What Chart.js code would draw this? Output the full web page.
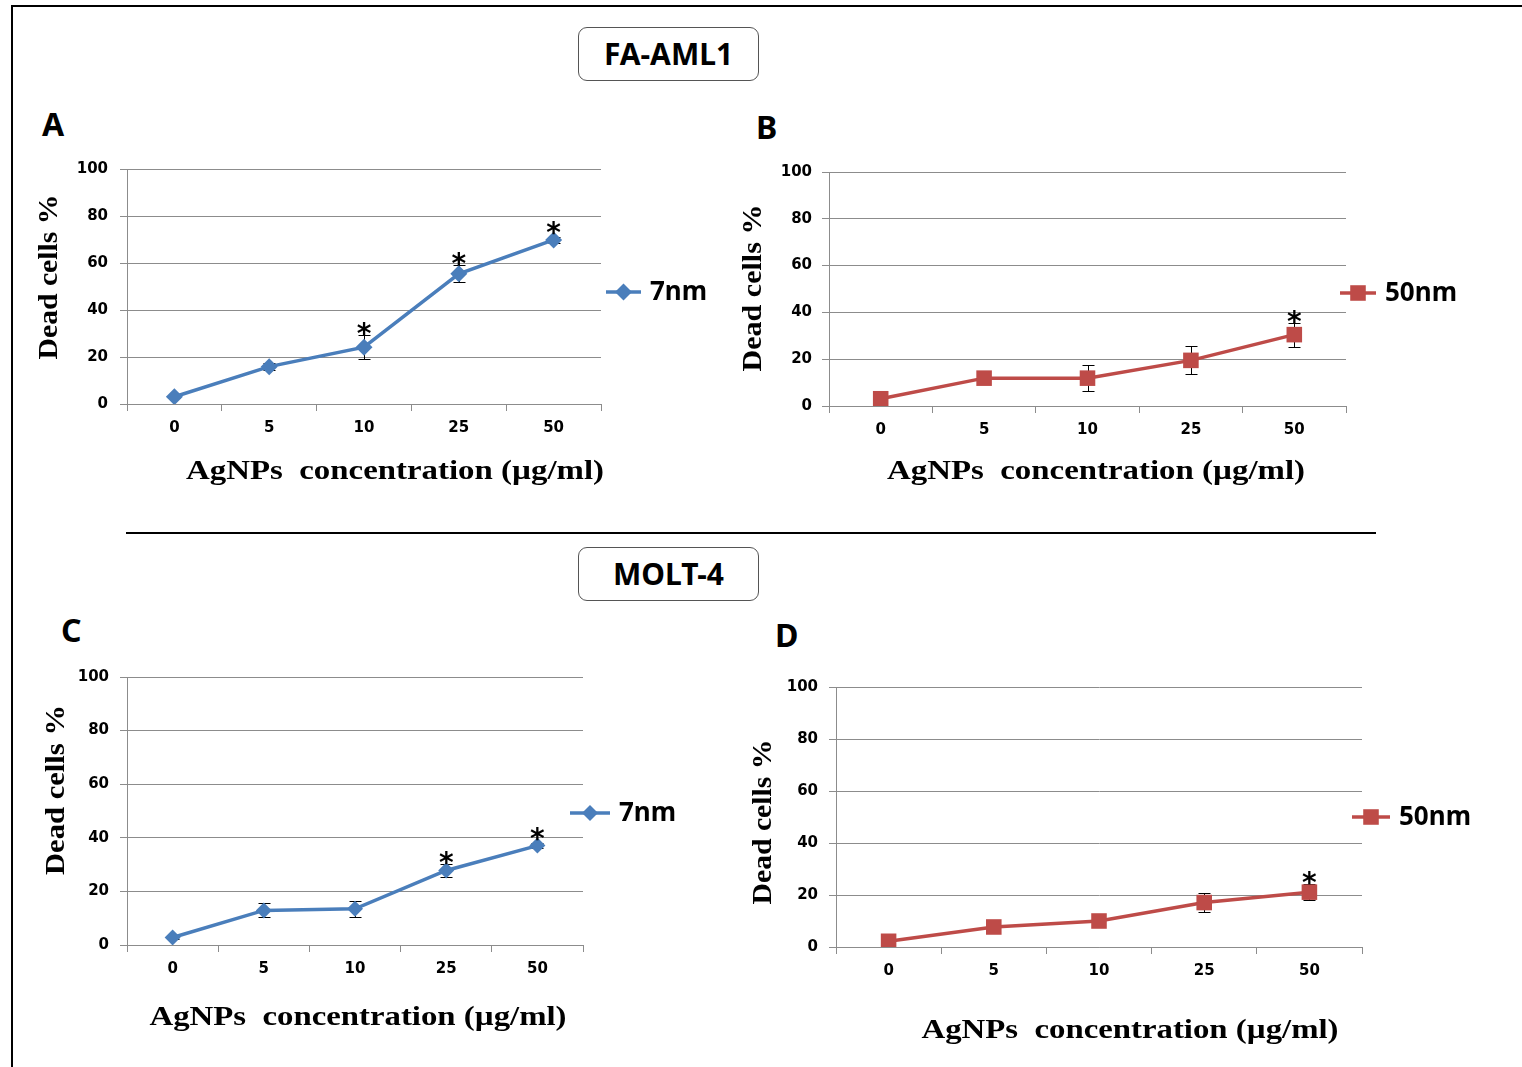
<!DOCTYPE html>
<html>
<head>
<meta charset="utf-8">
<script src="https://cdn.jsdelivr.net/npm/chart.js@4.4.1/dist/chart.umd.min.js"></script>
<style>
  html, body { margin: 0; padding: 0; background: #fff; }
  #page { position: relative; width: 1522px; height: 1067px; overflow: hidden; }
  #page canvas { position: absolute; left: 0; top: 0; }
  .frame { position: absolute; left: 11px; top: 5px; width: 1520px; height: 1070px;
           border-left: 2px solid #000; border-top: 2px solid #000; }
  .divider { position: absolute; left: 126px; top: 532px; width: 1250px; height: 2px; background: #000; }
  .cellbox { position: absolute; width: 179px; height: 52px; border: 1px solid #555; border-radius: 9px;
             font: bold 30px "Noto Sans", sans-serif; text-align: center; line-height: 52px; color: #000; }
  .letter { position: absolute; font: bold 32px "Noto Sans", sans-serif; line-height: 1; color: #000; }
</style>
</head>
<body>
<div id="page">
  <div class="frame"></div>
  <div class="cellbox" style="left:578px; top:27px;">FA-AML1</div>
  <div class="divider"></div>
  <div class="cellbox" style="left:578px; top:547px;">MOLT-4</div>
  <div class="letter" style="left:42px; top:108px;">A</div>
  <div class="letter" style="left:756px; top:111px;">B</div>
  <div class="letter" style="left:61px; top:614px;">C</div>
  <div class="letter" style="left:775px; top:619px;">D</div>
  <canvas id="chartA" width="1522" height="1067"></canvas>
  <canvas id="chartB" width="1522" height="1067"></canvas>
  <canvas id="chartC" width="1522" height="1067"></canvas>
  <canvas id="chartD" width="1522" height="1067"></canvas>
</div>
<script>
// AgNPs concentration (µg/ml)
const concentrations = ["0", "5", "10", "25", "50"];

// FA-AML1, dead cells %
const famlSmall = [3.1, 15.9, 24.2, 55.4, 69.8];
const famlSmallErr = [0.6, 1.5, 5.2, 3.6, 1.2];
const famlSmallStar = [false, false, true, true, true];
const famlLarge = [3.1, 11.9, 11.9, 19.5, 30.5];
const famlLargeErr = [0.5, 0.8, 5.7, 6.0, 5.1];
const famlLargeStar = [false, false, false, false, true];

// MOLT-4, dead cells %
const moltSmall = [2.8, 12.9, 13.5, 27.8, 37.1];
const moltSmallErr = [0.5, 2.6, 3.0, 2.6, 1.0];
const moltSmallStar = [false, false, false, true, true];
const moltLarge = [2.2, 7.7, 10.0, 17.1, 21.1];
const moltLargeErr = [0.4, 1.0, 1.0, 3.6, 3.1];
const moltLargeStar = [false, false, false, false, true];

const yTicks = [0, 20, 40, 60, 80, 100];

const BLUE = "#4a7ebb";
const RED = "#be4b48";
const GRID = "#8c8c8c";
const W = 1522, H = 1067;
const Y_AXIS_W = 70, X_AXIS_H = 40;

function drawMarker(ctx, style, r, x, y, color) {
  ctx.fillStyle = color;
  ctx.beginPath();
  if (style === "rectRot") {
    ctx.moveTo(x, y - r); ctx.lineTo(x + r, y); ctx.lineTo(x, y + r); ctx.lineTo(x - r, y);
  } else {
    const s = r * Math.SQRT1_2;
    ctx.rect(x - s, y - s, 2 * s, 2 * s);
  }
  ctx.closePath();
  ctx.fill();
}

function stretchedText(ctx, text, x, y, width) {
  const m = ctx.measureText(text).width;
  ctx.save();
  ctx.translate(x, y);
  ctx.scale(width / m, 1);
  ctx.fillText(text, 0, 0);
  ctx.restore();
}

const panelDecor = {
  id: "panelDecor",
  beforeDatasetsDraw(chart, args, opts) {
    const { ctx, scales: { x, y } } = chart;
    const ds = chart.data.datasets[0];
    ctx.save();
    ctx.strokeStyle = "#000";
    ctx.lineWidth = 1;
    ds.data.forEach((v, i) => {
      const e = opts.errors[i];
      const px = Math.round(x.getPixelForValue(i)) + 0.5;
      const yt = Math.round(y.getPixelForValue(v + e)) + 0.5;
      const yb = Math.round(y.getPixelForValue(v - e)) + 0.5;
      ctx.beginPath();
      ctx.moveTo(px, yt); ctx.lineTo(px, yb);
      ctx.moveTo(px - 6, yt); ctx.lineTo(px + 6, yt);
      ctx.moveTo(px - 6, yb); ctx.lineTo(px + 6, yb);
      ctx.stroke();
    });
    ctx.restore();
  },
  afterDraw(chart, args, opts) {
    const { ctx, scales: { x, y } } = chart;
    const ds = chart.data.datasets[0];
    ctx.save();
    // significance marks
    ctx.fillStyle = "#000";
    ctx.font = "bold 28px 'DejaVu Sans'";
    ctx.textAlign = "center";
    ctx.textBaseline = "alphabetic";
    ds.data.forEach((v, i) => {
      if (!opts.stars[i]) return;
      const px = x.getPixelForValue(i);
      const top = Math.min(y.getPixelForValue(v + opts.errors[i]), y.getPixelForValue(v) - ds.pointRadius * 0.75);
      ctx.fillText("*", px, top + 8);
    });
    // legend
    const lg = opts.legend;
    ctx.strokeStyle = ds.borderColor;
    ctx.lineWidth = 3.5;
    ctx.beginPath();
    ctx.moveTo(lg.x, lg.y); ctx.lineTo(lg.x + lg.len, lg.y);
    ctx.stroke();
    drawMarker(ctx, ds.pointStyle, ds.pointRadius, lg.x + lg.len / 2, lg.y, ds.backgroundColor);
    ctx.fillStyle = "#000";
    ctx.font = "bold 26px 'Noto Sans'";
    ctx.textAlign = "left";
    ctx.textBaseline = "middle";
    ctx.fillText(ds.label, lg.x + lg.len + 9, lg.y + 1);
    // axis titles
    ctx.font = "bold 28px 'Liberation Serif'";
    ctx.textAlign = "left";
    ctx.textBaseline = "middle";
    const xt = opts.xTitle;
    stretchedText(ctx, "AgNPs  concentration (µg/ml)", xt.x - xt.w / 2, xt.y, xt.w);
    const yt = opts.yTitle;
    ctx.save();
    ctx.translate(yt.x, yt.y);
    ctx.rotate(-Math.PI / 2);
    stretchedText(ctx, "Dead cells %", -yt.w / 2, 0, yt.w);
    ctx.restore();
    ctx.restore();
  }
};

function makePanel(id, label, values, errors, stars, color, style, radius, lay) {
  const p = lay.plot;
  return new Chart(document.getElementById(id), {
    type: "line",
    data: {
      labels: concentrations,
      datasets: [{
        label: label,
        data: values,
        borderColor: color,
        backgroundColor: color,
        borderWidth: 3.5,
        pointStyle: style,
        pointRadius: radius,
        pointBorderWidth: 0,
        pointHoverRadius: radius,
        tension: 0,
        fill: false
      }]
    },
    options: {
      responsive: false,
      animation: false,
      devicePixelRatio: 1,
      events: [],
      layout: {
        padding: { left: p.l - Y_AXIS_W, top: p.t, right: W - p.r, bottom: H - p.b - X_AXIS_H }
      },
      scales: {
        x: {
          type: "category",
          offset: true,
          afterFit: s => { s.height = X_AXIS_H; },
          grid: { offset: true, drawOnChartArea: false, drawTicks: true, tickLength: 7, color: GRID, lineWidth: 1 },
          border: { display: true, color: GRID, width: 1 },
          ticks: { color: "#000", padding: 8, font: { family: "DejaVu Sans", weight: "bold", size: 15 } }
        },
        y: {
          min: 0,
          max: 100,
          afterFit: s => { s.width = Y_AXIS_W; },
          afterBuildTicks: s => { s.ticks = yTicks.map(v => ({ value: v })); },
          grid: { drawTicks: true, tickLength: 7, color: GRID, lineWidth: 1 },
          border: { display: true, color: GRID, width: 1 },
          ticks: { color: "#000", padding: lay.yPad, font: { family: "DejaVu Sans", weight: "bold", size: 15 } }
        }
      },
      plugins: {
        legend: { display: false },
        tooltip: { enabled: false },
        panelDecor: { errors: errors, stars: stars, legend: lay.legend, xTitle: lay.xTitle, yTitle: lay.yTitle }
      }
    },
    plugins: [panelDecor]
  });
}

makePanel("chartA", "7nm", famlSmall, famlSmallErr, famlSmallStar, BLUE, "rectRot", 8.5, {
  plot: { l: 127, t: 169, r: 601, b: 404 }, yPad: 12,
  xTitle: { x: 395, y: 472, w: 418 }, yTitle: { x: 50, y: 277, w: 165 },
  legend: { x: 606, y: 292, len: 35 }
});
makePanel("chartB", "50nm", famlLarge, famlLargeErr, famlLargeStar, RED, "rect", 11, {
  plot: { l: 829, t: 172, r: 1346, b: 406 }, yPad: 10,
  xTitle: { x: 1096, y: 472, w: 418 }, yTitle: { x: 754, y: 288, w: 167 },
  legend: { x: 1340, y: 293, len: 36 }
});
makePanel("chartC", "7nm", moltSmall, moltSmallErr, moltSmallStar, BLUE, "rectRot", 8, {
  plot: { l: 127, t: 677, r: 583, b: 945 }, yPad: 11,
  xTitle: { x: 358, y: 1018, w: 417 }, yTitle: { x: 57, y: 790, w: 170 },
  legend: { x: 570, y: 813, len: 40 }
});
makePanel("chartD", "50nm", moltLarge, moltLargeErr, moltLargeStar, RED, "rect", 11, {
  plot: { l: 836, t: 687, r: 1362, b: 947 }, yPad: 11,
  xTitle: { x: 1130, y: 1031, w: 417 }, yTitle: { x: 764, y: 822, w: 165 },
  legend: { x: 1352, y: 817, len: 38 }
});
</script>
</body>
</html>
